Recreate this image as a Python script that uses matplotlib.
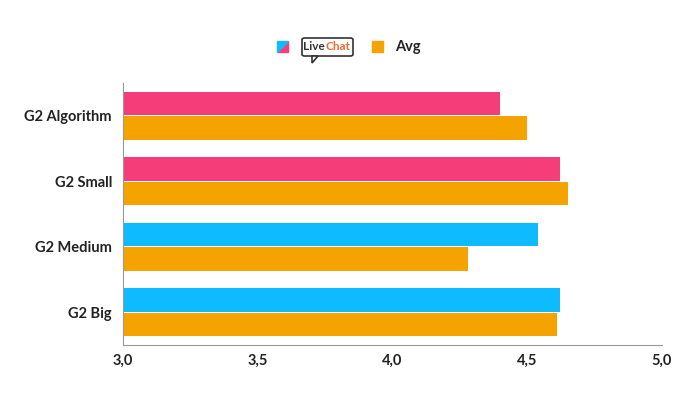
import matplotlib
matplotlib.use("Agg")
import matplotlib.pyplot as plt
import numpy as np
from matplotlib.patches import Polygon, Rectangle, FancyBboxPatch

categories = ["G2 Algorithm", "G2 Small", "G2 Medium", "G2 Big"]
livechat = [4.40, 4.62, 4.54, 4.62]
avg = [4.50, 4.65, 4.28, 4.61]
lc_colors = ["#F53D7A", "#F53D7A", "#0EBBFF", "#0EBBFF"]
xticks = [3.0, 3.5, 4.0, 4.5, 5.0]
xticklabels = ["3,0", "3,5", "4,0", "4,5", "5,0"]

plt.rcParams["font.family"] = "Lato"
fig = plt.figure(figsize=(7, 4.01), dpi=100)
ax = fig.add_axes([123/700, 1-345/401, 539/700, (345-83)/401])
y = np.arange(len(categories))
h = 0.36
ax.barh(y - h/2 - 0.01, livechat, height=h, color=lc_colors)
ax.barh(y + h/2 + 0.01, avg, height=h, color="#F5A300")
ax.set_xlim(3.0, 5.0)
ax.set_ylim(3.5, -0.5)
ax.set_yticks(y)
ax.set_yticklabels(categories, fontsize=10.5, fontweight="bold", color="#222")
ax.set_xticks(xticks)
ax.set_xticklabels(xticklabels, fontsize=10.5, fontweight="bold", color="#222")
for s in ["top", "right"]:
    ax.spines[s].set_visible(False)
ax.spines["left"].set_color("#999")
ax.spines["bottom"].set_color("#999")
ax.tick_params(axis="y", length=0, pad=8)
ax.tick_params(axis="x", length=0, pad=6)

def px(x, yy):
    return (x/700, 1-yy/401)
w = 11/700; hh = 11/401
x0, y0 = px(277, 52)
fig.patches.append(Polygon([(x0, y0), (x0+w, y0), (x0+w, y0+hh)], closed=True, transform=fig.transFigure, color="#F53D7A"))
fig.patches.append(Polygon([(x0, y0), (x0, y0+hh), (x0+w, y0+hh)], closed=True, transform=fig.transFigure, color="#0EBBFF"))
bx, by = px(302, 56)
fig.patches.append(FancyBboxPatch((bx, by), 51/700, 18/401, boxstyle="round,pad=0,rounding_size=0.004",
    transform=fig.transFigure, fill=False, ec="#333", lw=1.2))
fig.patches.append(Polygon([px(312, 56), px(318, 56), px(312, 63)], closed=True, transform=fig.transFigure, fc="white", ec="#333", lw=1.2))
fig.text(303.5/700, 1-47/401, "Live", fontsize=8.5, fontweight="bold", color="#333", va="center")
fig.text(325/700, 1-47/401, "Chat", fontsize=8.5, fontweight="bold", color="#E86C33", va="center")
ox, oy = px(372, 52)
fig.patches.append(Rectangle((ox, oy), w, hh, transform=fig.transFigure, color="#F5A300"))
fig.text(395/700, 1-47/401, "Avg", fontsize=10.5, fontweight="bold", color="#222", va="center")

fig.savefig("out.png", dpi=100)
